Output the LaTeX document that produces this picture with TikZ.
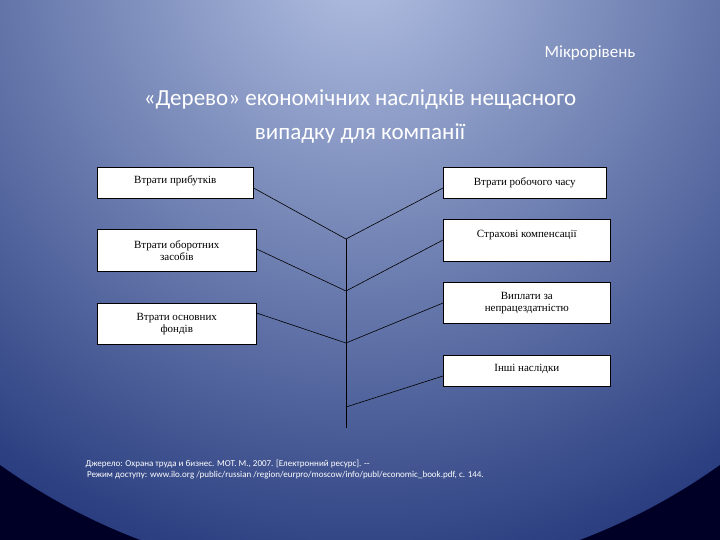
\documentclass[tikz,border=0pt]{standalone}
\usepackage{fontspec}
\setmainfont{Liberation Serif}
\newfontfamily\carfont{Carlito}
\begin{document}
\begin{tikzpicture}[x=1pt,y=-1pt,
  bx/.style={draw=black,fill=white,line width=0.6pt,inner sep=0pt,font=\fontsize{11}{12}\selectfont,align=center},
  ln/.style={draw=black,line width=0.6pt}]
\useasboundingbox (0,0) rectangle (720,540);
\begin{scope}
\clip (0,0) rectangle (720,540);
\fill[black!85!blue] (0,0) rectangle (720,540);
\shade[inner color={rgb,255:red,178;green,192;blue,226},outer color={rgb,255:red,42;green,62;blue,128}] (360,-40) circle[radius=620];
\end{scope}
\node[text=white,font=\carfont\fontsize{17}{20}\selectfont] (mr) at (590,53) {Мікрорівень};
\node[text=white,font=\carfont\fontsize{23}{34}\selectfont,align=center] (t) at (360,116) {«Дерево» економічних наслідків нещасного\\випадку для компанії};
% boxes
\node[bx,minimum width=156,minimum height=31,anchor=north west] (l1) at (97,167) {\raisebox{6pt}{Втрати прибутків}};
\node[bx,minimum width=159,minimum height=42,anchor=north west] (l2) at (97,229) {Втрати оборотних\\засобів};
\node[bx,minimum width=159,minimum height=41,anchor=north west] (l3) at (97,303) {Втрати основних\\фондів};
\node[bx,minimum width=163,minimum height=31,anchor=north west] (r1) at (443,167) {Втрати робочого часу};
\node[bx,minimum width=167,minimum height=42,anchor=north west] (r2) at (443,219) {\raisebox{12pt}{Страхові компенсації}};
\node[bx,minimum width=167,minimum height=41,anchor=north west] (r3) at (443,282) {Виплати за\\непрацездатністю};
\node[bx,minimum width=167,minimum height=31,anchor=north west] (r4) at (443,355) {\raisebox{6pt}{Інші наслідки}};
% tree
\coordinate (j1) at (346,239);
\coordinate (j2) at (346,291);
\coordinate (j3) at (346,343);
\coordinate (j4) at (346,407);
\coordinate (jb) at (346,428);
\draw[ln] (j1) -- (jb);
\draw[ln] (l1.east |- 0,188) -- (j1) -- (r1.west |- 0,188);
\draw[ln] (l2.east |- 0,249) -- (j2) -- (r2.west |- 0,240);
\draw[ln] (l3.east |- 0,313) -- (j3) -- (r3.west |- 0,303);
\draw[ln] (j4) -- (r4.west |- 0,376);
\node[text=white,font=\carfont\fontsize{9}{11.5}\selectfont,align=left,anchor=north west] (src) at (82,456) {Джерело: Охрана труда и бизнес. МОТ. М., 2007. [Електронний ресурс]. --\\ \,Режим доступу: www.ilo.org /public/russian /region/eurpro/moscow/info/publ/economic\_book.pdf, с. 144.};
\end{tikzpicture}
\end{document}
